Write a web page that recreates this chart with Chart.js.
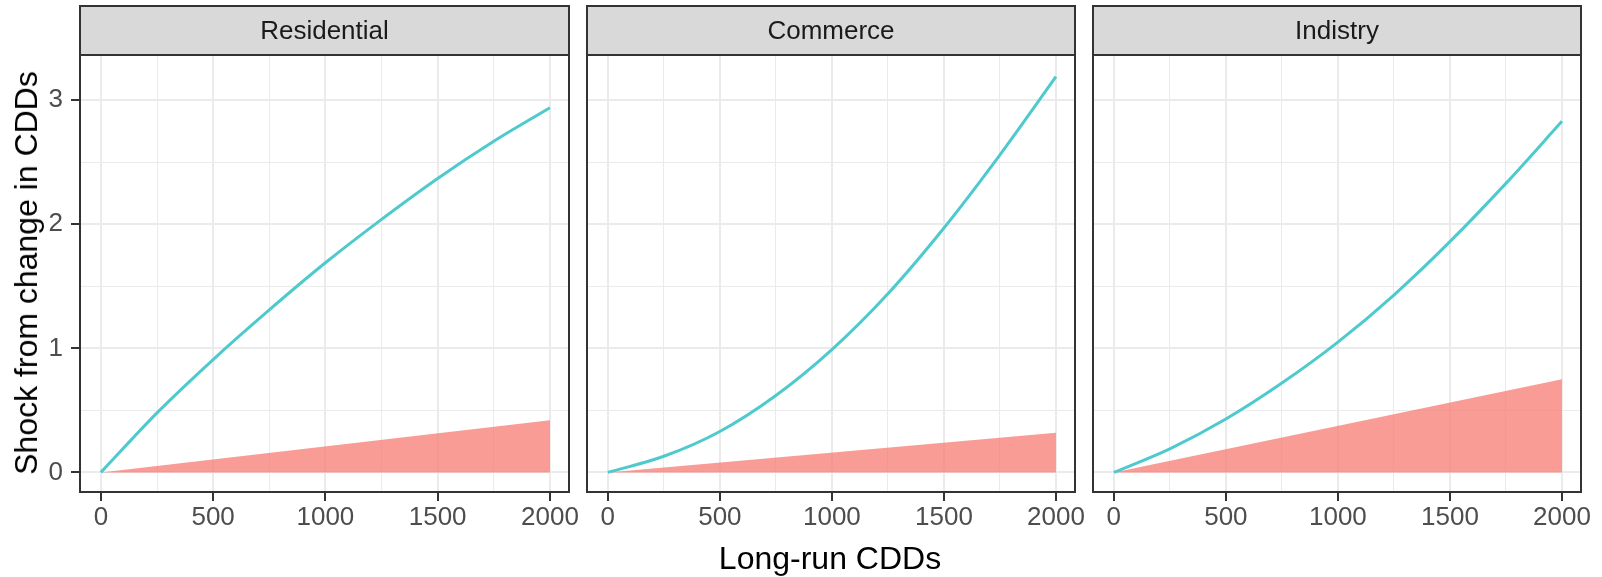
<!DOCTYPE html>
<html>
<head>
<meta charset="utf-8">
<script src="https://cdn.jsdelivr.net/npm/chart.js@4.4.1/dist/chart.umd.min.js"></script>
<style>
  html, body { margin: 0; padding: 0; background: #ffffff; }
  #wrap { position: relative; width: 1602px; height: 577px; overflow: hidden;
          font-family: "Liberation Sans", Arial, sans-serif; }
  #wrap canvas { position: absolute; left: 0; top: 0; }
  .axis-title { position: absolute; color: #000; font-size: 32px; white-space: nowrap; line-height: 1; }
  #xTitle { left: 830px; top: 558px; transform: translate(-50%, -50%); }
  #yTitle { left: 26px; top: 273px; transform: translate(-50%, -50%) rotate(-90deg); }
</style>
</head>
<body>
<div id="wrap">
  <canvas id="panel0" width="1602" height="577"></canvas>
  <canvas id="panel1" width="1602" height="577"></canvas>
  <canvas id="panel2" width="1602" height="577"></canvas>
  <div class="axis-title" id="xTitle">Long-run CDDs</div>
  <div class="axis-title" id="yTitle">Shock from change in CDDs</div>
</div>
<script>
// Facet names
const sectors = ['Residential', 'Commerce', 'Indistry'];

// Long-run CDD values along each curve
const cddValues = [0, 250, 500, 750, 1000, 1250, 1500, 1750, 2000];

// Shock curves (one per facet)
const shockResidential = [0, 0.48, 0.91, 1.31, 1.69, 2.04, 2.37, 2.67, 2.94];
const shockCommerce    = [0, 0.13, 0.33, 0.62, 0.99, 1.44, 1.97, 2.56, 3.19];
const shockIndistry    = [0, 0.19, 0.43, 0.72, 1.05, 1.43, 1.86, 2.33, 2.83];

// Shaded band: from zero up to a straight edge between these end points
const bandCdd         = [0, 2000];
const bandResidential = [0, 0.42];
const bandCommerce    = [0, 0.32];
const bandIndistry    = [0, 0.75];

// Axis ticks
const xMajorTicks = [0, 500, 1000, 1500, 2000];
const xMinorTicks = [250, 750, 1250, 1750];
const xTickLabels = ['0', '500', '1000', '1500', '2000'];
const yMajorTicks = [0, 1, 2, 3];
const yMinorTicks = [0.5, 1.5, 2.5];
const yTickLabels = ['0', '1', '2', '3'];

const shockSeries = [shockResidential, shockCommerce, shockIndistry];
const bandSeries  = [bandResidential, bandCommerce, bandIndistry];

// Page geometry
const W = 1602, H = 577;
const panelLeft   = [80, 587, 1093];
const panelRight  = [569, 1075, 1581];
const panelTop    = 55;
const panelBottom = 492;
const stripTop    = 6;
const xRange = [-93, 2085];
const yRange = [-0.158, 3.365];

const FONT = '"Liberation Sans", Arial, sans-serif';
const lineColor = '#4ECACE';
const bandColor = 'rgba(246, 118, 109, 0.72)';
const gridColor = '#EBEBEB';
const frameColor = '#333333';

// Strip on top of each panel plus the panel border
const panelFrame = {
  id: 'panelFrame',
  afterDraw(chart, args, opts) {
    const { ctx, chartArea: a } = chart;
    const w = a.right - a.left;
    ctx.save();
    ctx.fillStyle = '#D9D9D9';
    ctx.fillRect(a.left, stripTop, w, a.top - stripTop);
    ctx.strokeStyle = frameColor;
    ctx.lineWidth = 2;
    ctx.strokeRect(a.left, stripTop, w, a.top - stripTop);
    ctx.strokeRect(a.left, a.top, w, a.bottom - a.top);
    ctx.fillStyle = '#1A1A1A';
    ctx.font = '26px ' + FONT;
    ctx.textAlign = 'center';
    ctx.textBaseline = 'middle';
    ctx.fillText(opts.title, a.left + w / 2, (stripTop + a.top) / 2 + 1);
    ctx.restore();
  }
};

function isIn(list, v) {
  return list.some(t => Math.abs(t - v) < 1e-9);
}

function makePanel(i) {
  const first = i === 0;
  const xAll = [...xMajorTicks, ...xMinorTicks].sort((a, b) => a - b);
  const yAll = [...yMajorTicks, ...yMinorTicks].sort((a, b) => a - b);
  // the first panel keeps its y labels inside the y scale box
  const yBoxWidth = first ? panelLeft[0] : 0;

  new Chart(document.getElementById('panel' + i), {
    type: 'line',
    data: {
      datasets: [
        {
          label: 'shock',
          data: cddValues.map((x, k) => ({ x, y: shockSeries[i][k] })),
          borderColor: lineColor,
          borderWidth: 3,
          pointRadius: 0,
          cubicInterpolationMode: 'monotone',
          fill: false,
          order: 0
        },
        {
          label: 'band',
          data: bandCdd.map((x, k) => ({ x, y: bandSeries[i][k] })),
          borderWidth: 0,
          borderColor: 'rgba(0,0,0,0)',
          backgroundColor: bandColor,
          pointRadius: 0,
          fill: 'origin',
          order: 1
        }
      ]
    },
    options: {
      responsive: false,
      animation: false,
      devicePixelRatio: 1,
      events: [],
      layout: {
        padding: { left: panelLeft[i] - yBoxWidth, right: W - panelRight[i], top: panelTop, bottom: 0 }
      },
      plugins: {
        legend: { display: false },
        tooltip: { enabled: false },
        panelFrame: { title: sectors[i] }
      },
      scales: {
        x: {
          type: 'linear',
          min: xRange[0],
          max: xRange[1],
          afterBuildTicks: s => { s.ticks = xAll.map(v => ({ value: v })); },
          afterFit: s => { s.height = H - panelBottom; },
          border: { display: false },
          grid: {
            color: gridColor,
            lineWidth: c => (c.tick && isIn(xMajorTicks, c.tick.value)) ? 2 : 1,
            drawTicks: true,
            tickLength: 9,
            tickWidth: 2,
            tickColor: c => (c.tick && isIn(xMajorTicks, c.tick.value)) ? frameColor : 'rgba(0,0,0,0)'
          },
          ticks: {
            autoSkip: false,
            maxRotation: 0,
            minRotation: 0,
            padding: 1,
            color: '#4D4D4D',
            font: { family: FONT, size: 26 },
            callback: v => {
              const k = xMajorTicks.findIndex(t => Math.abs(t - v) < 1e-9);
              return k >= 0 ? xTickLabels[k] : '';
            }
          }
        },
        y: {
          type: 'linear',
          min: yRange[0],
          max: yRange[1],
          afterBuildTicks: s => { s.ticks = yAll.map(v => ({ value: v })); },
          afterFit: s => { s.width = yBoxWidth; },
          border: { display: false },
          grid: {
            color: gridColor,
            lineWidth: c => (c.tick && isIn(yMajorTicks, c.tick.value)) ? 2 : 1,
            drawTicks: first,
            tickLength: 9,
            tickWidth: 2,
            tickColor: c => (c.tick && isIn(yMajorTicks, c.tick.value)) ? frameColor : 'rgba(0,0,0,0)'
          },
          ticks: {
            display: first,
            autoSkip: false,
            padding: 8,
            color: '#4D4D4D',
            font: { family: FONT, size: 26 },
            callback: v => {
              const k = yMajorTicks.findIndex(t => Math.abs(t - v) < 1e-9);
              return k >= 0 ? yTickLabels[k] : '';
            }
          }
        }
      }
    },
    plugins: [panelFrame]
  });
}

[0, 1, 2].forEach(makePanel);
</script>
</body>
</html>
